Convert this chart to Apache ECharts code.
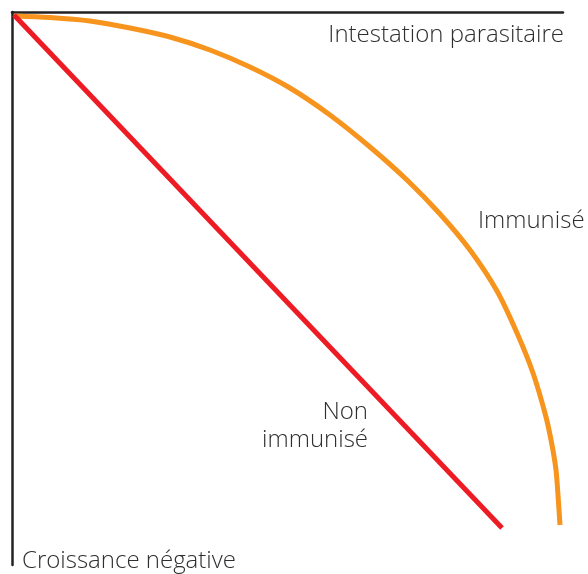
<!DOCTYPE html>
<html>
<head>
<meta charset="utf-8">
<script src="https://cdn.jsdelivr.net/npm/echarts@6/dist/echarts.min.js"></script>
<style>
  html, body { margin: 0; padding: 0; background: #fff; }
  #chart { width: 588px; height: 574px; }
</style>
</head>
<body>
<div id="chart"></div>
<script>
// valeurs (x vers la droite, y vers le bas depuis le coin haut gauche)
var nonImmuniseX = [2, 490];
var nonImmuniseY = [3, 516];

var immuniseX = [2, 38, 78, 118, 158, 198, 238, 278, 318, 358, 395, 428, 458, 485, 505, 521, 534, 540, 544, 546, 548];
var immuniseY = [4, 5.5, 9, 16, 25, 38, 55, 76, 103, 135, 168, 202, 238, 279, 321, 361, 405, 433, 458, 483, 513];

var labels = {
    haut: 'Intestation parasitaire',
    bas: 'Croissance négative',
    immunise: 'Immunisé',
    non: 'Non',
    immuniseBas: 'immunisé'
};

function pairs(xs, ys) {
    var out = [];
    for (var i = 0; i < xs.length; i++) out.push([xs[i], ys[i]]);
    return out;
}

var chart = echarts.init(document.getElementById('chart'));
var txt = { fontFamily: '"Open Sans", "Liberation Sans", sans-serif', fontSize: 24, fontWeight: 300, fill: '#2e2e2e' };
function label(s, pos) {
    return Object.assign({ type: 'text', style: Object.assign({ text: s }, txt) }, pos);
}

chart.setOption({
    animation: false,
    grid: { left: 12, top: 12, width: 551, height: 553 },
    xAxis: {
        type: 'value', position: 'top', min: 0, max: 551,
        axisLine: { show: true, lineStyle: { color: '#222', width: 2.5 } },
        axisTick: { show: false }, axisLabel: { show: false }, splitLine: { show: false }
    },
    yAxis: {
        type: 'value', inverse: true, min: 0, max: 553,
        axisLine: { show: true, lineStyle: { color: '#222', width: 2.5 } },
        axisTick: { show: false }, axisLabel: { show: false }, splitLine: { show: false }
    },
    series: [
        {
            type: 'line', data: pairs(immuniseX, immuniseY), smooth: 0.3,
            showSymbol: false, lineStyle: { color: '#f7941d', width: 5 }
        },
        {
            type: 'line', data: pairs(nonImmuniseX, nonImmuniseY),
            showSymbol: false, lineStyle: { color: '#ed1c24', width: 5 }
        }
    ],
    graphic: [
        label(labels.haut, { right: 24, top: 23 }),
        label(labels.immunise, { left: 478, top: 209 }),
        label(labels.bas, { left: 22, top: 549 }),
        label(labels.non, { right: 220, top: 400 }),
        label(labels.immuniseBas, { right: 220, top: 428 })
    ]
});
</script>
</body>
</html>
